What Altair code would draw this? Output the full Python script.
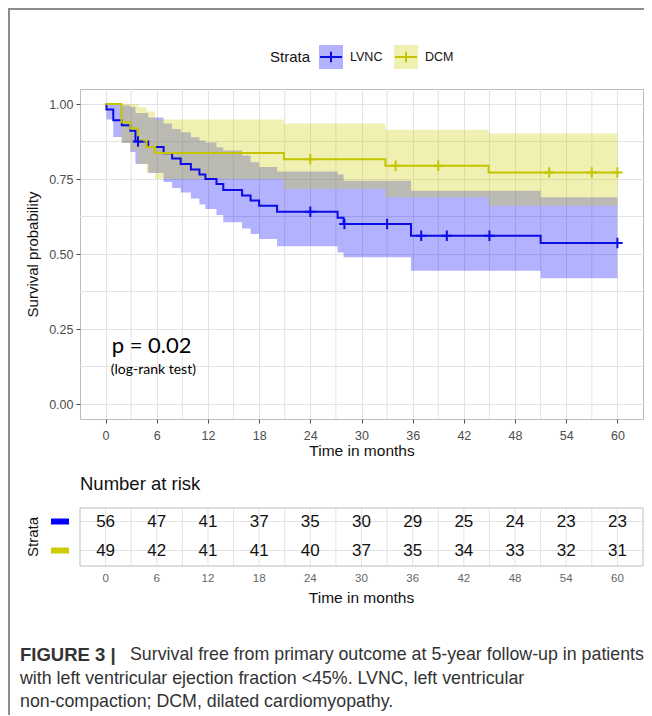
import altair as alt
import pandas as pd

# ---------------- data ----------------
strata = ["LVNC", "DCM"]
line_colors = ["#0B0BE6", "#C4C400"]
band_colors = ["#0000FF", "#CCCC00"]
key_colors = ["#0000FF", "#CCCC00"]

lvnc_time  = [0, 0.1, 0.9, 1.9, 2.9, 3.5, 5.0, 6.8, 7.8, 8.8, 10.0, 11.0, 11.7, 13.0, 13.8, 16.0, 17.0, 18.0, 20.1, 27.2, 27.9, 35.8, 51.0, 60]
lvnc_surv  = [1.0, 0.982, 0.946, 0.929, 0.911, 0.875, 0.857, 0.836, 0.818, 0.800, 0.782, 0.765, 0.750, 0.733, 0.713, 0.695, 0.678, 0.661, 0.641, 0.621, 0.600, 0.561, 0.537, 0.537]
lvnc_lower = [1.0, 0.948, 0.890, 0.870, 0.840, 0.800, 0.770, 0.740, 0.720, 0.705, 0.685, 0.665, 0.650, 0.630, 0.606, 0.585, 0.567, 0.550, 0.526, 0.505, 0.489, 0.444, 0.419, 0.419]
lvnc_upper = [1.0, 1.0, 1.0, 0.995, 0.990, 0.970, 0.955, 0.935, 0.917, 0.906, 0.889, 0.878, 0.872, 0.856, 0.845, 0.828, 0.806, 0.790, 0.775, 0.765, 0.744, 0.711, 0.689, 0.689]

dcm_time  = [0, 1.85, 2.9, 3.8, 4.8, 5.8, 20.9, 32.8, 44.9, 60]
dcm_surv  = [1.0, 0.939, 0.918, 0.878, 0.857, 0.837, 0.816, 0.794, 0.772, 0.772]
dcm_lower = [1.0, 0.870, 0.845, 0.800, 0.772, 0.750, 0.717, 0.689, 0.661, 0.661]
dcm_upper = [1.0, 1.0, 1.0, 0.990, 0.975, 0.948, 0.935, 0.914, 0.902, 0.902]

lvnc_cens_t = [3.8, 24, 28, 33, 37, 40, 45, 60]
lvnc_cens_s = [0.875, 0.641, 0.600, 0.600, 0.561, 0.561, 0.561, 0.537]
dcm_cens_t = [24, 34, 39, 52, 57, 60]
dcm_cens_s = [0.816, 0.794, 0.794, 0.772, 0.772, 0.772]

risk_times = [0, 6, 12, 18, 24, 30, 36, 42, 48, 54, 60]
lvnc_risk = [56, 47, 41, 37, 35, 30, 29, 25, 24, 23, 23]
dcm_risk = [49, 42, 41, 41, 40, 37, 35, 34, 33, 32, 31]

x_ticks = [0, 6, 12, 18, 24, 30, 36, 42, 48, 54, 60]
x_minor = [3, 9, 15, 21, 27, 33, 39, 45, 51, 57]
y_ticks = [0.0, 0.25, 0.5, 0.75, 1.0]
y_minor = [0.125, 0.375, 0.625, 0.875]

p_text = ["p = 0.02", "(log-rank test)"]
p_t = [5.4, 5.6]
p_s = [0.193, 0.113]

caption_bold = "FIGURE 3 |"
caption_lines = [
    "Survival free from primary outcome at 5-year follow-up in patients",
    "with left ventricular ejection fraction <45%. LVNC, left ventricular",
    "non-compaction; DCM, dilated cardiomyopathy.",
]

# ---------------- styling ----------------
FONT = "Liberation Sans, Arial, sans-serif"
W, H = 563, 330
GRID = "#E3E3E3"
BORDER = "#BDBDBD"
FRAME = "#8C8C8C"
PLUS = "M-1,0L1,0M0,-1L0,1"

# risk-table geometry (pixels relative to the survival panel's top-left)
T_TOP, T_BOT = 419, 477
ROW_POS = [432.5, 461.5]

xs = alt.Scale(domain=[-3, 63], nice=False, zero=False)
ys = alt.Scale(domain=[-0.05, 1.05], nice=False, zero=False)
rs = alt.Scale(type="point", domain=strata, range=ROW_POS, padding=0)
cscale = alt.Scale(domain=strata, range=line_colors)

xax = alt.Axis(values=x_ticks, title="Time in months", grid=True, gridColor=GRID,
               labelFont=FONT, labelFontSize=12.5, labelColor="#4D4D4D", labelPadding=6,
               tickColor="#4D4D4D", tickSize=4, domain=False,
               titleFont=FONT, titleFontSize=15.5, titleFontWeight="normal",
               titleColor="#111111", titlePadding=2)
yax = alt.Axis(values=y_ticks, format=".2f", title="Survival probability", grid=True,
               gridColor=GRID, labelFont=FONT, labelFontSize=12.5, labelColor="#4D4D4D",
               labelPadding=3, tickColor="#4D4D4D", tickSize=4, domain=False,
               titleFont=FONT, titleFontSize=15, titleFontWeight="normal",
               titleColor="#111111", titlePadding=8)

X = alt.X("t:Q", scale=xs, axis=xax, title="Time in months")


def Y(field):
    return alt.Y(f"{field}:Q", scale=ys, axis=yax, title="Survival probability")


RY = alt.Y("strata:N", scale=rs, axis=None)

one = pd.DataFrame({"a": [0]})


def bar(x1, x2, y1, y2, color=FRAME):
    return alt.Chart(one).mark_rect(color=color).encode(
        x=alt.value(x1), x2=alt.value(x2), y=alt.value(y1), y2=alt.value(y2))


def label(text, x, y, size, align="left", **kw):
    return alt.Chart(one).mark_text(text=text, font=kw.pop("font", FONT), fontSize=size,
                                    color=kw.pop("color", "#111111"), align=align,
                                    baseline="middle", **kw).encode(x=alt.value(x), y=alt.value(y))


curves = []
for name, tt, ss, lo, hi in [("LVNC", lvnc_time, lvnc_surv, lvnc_lower, lvnc_upper),
                             ("DCM", dcm_time, dcm_surv, dcm_lower, dcm_upper)]:
    curves.append(pd.DataFrame({"t": tt, "s": ss, "lo": lo, "hi": hi, "strata": name}))
curve_df = pd.concat(curves, ignore_index=True)

cens_df = pd.concat([
    pd.DataFrame({"t": lvnc_cens_t, "s": lvnc_cens_s, "strata": "LVNC"}),
    pd.DataFrame({"t": dcm_cens_t, "s": dcm_cens_s, "strata": "DCM"}),
], ignore_index=True)

# ---------------- survival panel ----------------
km = []
km.append(alt.Chart(pd.DataFrame({"t": x_minor})).mark_rule(color=GRID, strokeWidth=1).encode(x=X))
km.append(alt.Chart(pd.DataFrame({"s": y_minor})).mark_rule(color=GRID, strokeWidth=1).encode(y=Y("s")))
for i, d in enumerate(curves):
    km.append(alt.Chart(d).mark_area(interpolate="step-after", opacity=0.3, color=band_colors[i])
              .encode(x=X, y=Y("hi"), y2="lo:Q"))
km.append(alt.Chart(curve_df).mark_line(interpolate="step-after", strokeWidth=2)
          .encode(x=X, y=Y("s"), color=alt.Color("strata:N", scale=cscale, legend=None)))
km.append(alt.Chart(cens_df).mark_point(shape=PLUS, size=110, strokeWidth=2, filled=False, opacity=1)
          .encode(x=X, y=Y("s"), color=alt.Color("strata:N", scale=cscale, legend=None)))
ann = pd.DataFrame({"t": p_t, "s": p_s, "label": p_text})
km.append(alt.Chart(ann.iloc[[0]]).mark_text(font="Lato", fontSize=22, color="black")
          .encode(x=X, y=Y("s"), text="label:N"))
km.append(alt.Chart(ann.iloc[[1]]).mark_text(font="Lato", fontSize=14, color="black")
          .encode(x=X, y=Y("s"), text="label:N"))

# legend (top)
LY = -32
km.append(label("Strata", 210, LY, 15, align="center"))
for i, name in enumerate(strata):
    x0 = 239 + 75 * i
    km.append(alt.Chart(one).mark_rect(color=band_colors[i], opacity=0.3)
              .encode(x=alt.value(x0), x2=alt.value(x0 + 24), y=alt.value(LY - 12), y2=alt.value(LY + 12)))
    km.append(alt.Chart(one).mark_rule(color=line_colors[i], strokeWidth=2)
              .encode(x=alt.value(x0 + 1), x2=alt.value(x0 + 23), y=alt.value(LY)))
    km.append(alt.Chart(one).mark_point(shape=PLUS, size=110, strokeWidth=2, filled=False,
                                        opacity=1, color=line_colors[i])
              .encode(x=alt.value(x0 + 12), y=alt.value(LY)))
    km.append(label(name, x0 + 31, LY, 12.5))

km_layer = alt.layer(*km)

# ---------------- risk table ----------------
risk_df = pd.concat([
    pd.DataFrame({"t": risk_times, "n": lvnc_risk, "strata": "LVNC"}),
    pd.DataFrame({"t": risk_times, "n": dcm_risk, "strata": "DCM"}),
], ignore_index=True)

rk = []
rk.append(alt.Chart(pd.DataFrame({"t": x_ticks + x_minor})).mark_rule(color=GRID, strokeWidth=1)
          .encode(x=X, y=alt.value(T_TOP), y2=alt.value(T_BOT)))
rk.append(alt.Chart(pd.DataFrame({"strata": strata})).mark_rule(color=GRID, strokeWidth=1)
          .encode(x=alt.value(0), x2=alt.value(W), y=RY))
rk.append(alt.Chart(one).mark_rect(fill="white", fillOpacity=0, stroke=BORDER, strokeWidth=1)
          .encode(x=alt.value(0), x2=alt.value(W), y=alt.value(T_TOP), y2=alt.value(T_BOT)))
rk.append(alt.Chart(risk_df).mark_text(font=FONT, fontSize=17, color="#111111", baseline="middle")
          .encode(x=X, y=RY, text="n:Q"))
for i, name in enumerate(strata):
    rk.append(alt.Chart(pd.DataFrame({"strata": [name]})).mark_rule(strokeWidth=6, color=key_colors[i])
              .encode(x=alt.value(-29), x2=alt.value(-11), y=RY))
rk.append(alt.Chart(pd.DataFrame({"t": x_ticks})).mark_text(font=FONT, fontSize=11.5, color="#666666",
                                                              baseline="middle")
          .encode(x=X, y=alt.value(490), text="t:Q"))
rk.append(label("Time in months", W / 2, 509, 15.5, align="center"))
rk.append(label("Strata", -47, 448, 15, align="center", angle=270))
rk.append(label("Number at risk", 0, 395, 18.5))

# caption
CY = [566, 590, 613]
rk.append(label(caption_bold, -60, CY[0], 18.5, color="#333333", fontWeight="bold"))
for k, line in enumerate(caption_lines):
    rk.append(label(line, 50 if k == 0 else -60, CY[k], 17.8, color="#333333"))

# figure frame (top + left)
rk.append(bar(-72, 564, -81, -79))
rk.append(bar(-72, -70, -81, 626))

risk_layer = alt.layer(*rk)

chart = (
    alt.layer(km_layer, risk_layer)
    .resolve_scale(y="independent")
    .properties(width=W, height=H, padding=0)
    .configure_view(stroke=BORDER, strokeWidth=1)
)

chart.save("out.html", embed_options={"renderer": "svg", "actions": False})
